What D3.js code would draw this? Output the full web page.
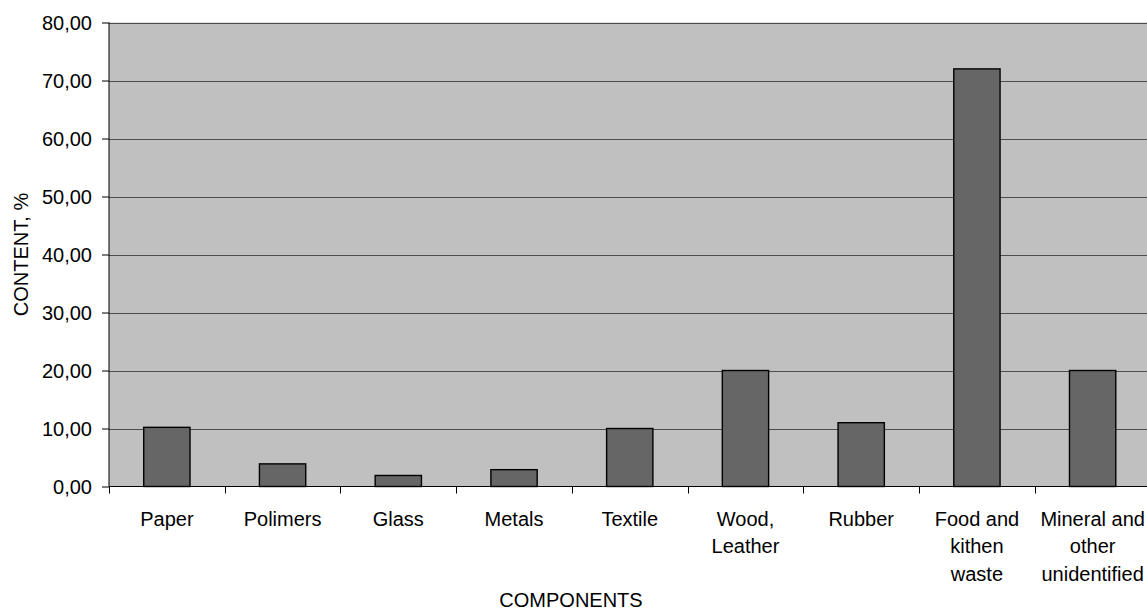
<!DOCTYPE html>
<html>
<head>
<meta charset="utf-8">
<script src="https://cdn.jsdelivr.net/npm/d3@7"></script>
<style>
  html, body { margin: 0; padding: 0; background: #ffffff; }
  svg { display: block; }
  text { font-family: "Liberation Sans", Arial, sans-serif; fill: #000; }
</style>
</head>
<body>
<svg id="chart" width="1147" height="610"></svg>
<script>
// Waste composition by component, % of total
const categories = [
  "Paper", "Polimers", "Glass", "Metals", "Textile",
  "Wood, Leather", "Rubber", "Food and kithen waste", "Mineral and other unidentified"
];
const contentValues = [10.2, 3.9, 1.9, 2.9, 10.0, 20.0, 11.0, 72.0, 20.0];
const categoryLabelLines = [
  ["Paper"], ["Polimers"], ["Glass"], ["Metals"], ["Textile"],
  ["Wood,", "Leather"], ["Rubber"], ["Food and", "kithen", "waste"],
  ["Mineral and", "other", "unidentified"]
];
const yTickValues = [0, 10, 20, 30, 40, 50, 60, 70, 80];
const xAxisTitle = "COMPONENTS";
const yAxisTitle = "CONTENT, %";

const svg = d3.select("#chart");
const plot = { left: 109, right: 1150.5, top: 22.5, bottom: 486.5 };
const fontSize = 20;

const x = d3.scaleBand()
  .domain(categories)
  .range([plot.left, plot.right])
  .paddingInner(0.6)
  .paddingOuter(0.3);

const y = d3.scaleLinear()
  .domain([0, 80])
  .range([plot.bottom, plot.top]);

const fmt = v => d3.format(".2f")(v).replace(".", ",");

// plot background
svg.append("rect")
  .attr("x", plot.left)
  .attr("y", plot.top)
  .attr("width", plot.right - plot.left)
  .attr("height", plot.bottom - plot.top)
  .attr("fill", "#c0c0c0");

// horizontal gridlines
svg.append("g")
  .selectAll("line")
  .data(yTickValues.filter(v => v > 0))
  .join("line")
  .attr("x1", plot.left)
  .attr("x2", plot.right)
  .attr("y1", d => Math.round(y(d)) + 0.5)
  .attr("y2", d => Math.round(y(d)) + 0.5)
  .attr("stroke", "#4d4d4d")
  .attr("stroke-width", 1);

// bars
svg.append("g")
  .selectAll("rect")
  .data(contentValues)
  .join("rect")
  .attr("x", (d, i) => x(categories[i]))
  .attr("y", d => y(d))
  .attr("width", x.bandwidth())
  .attr("height", d => y(0) - y(d))
  .attr("fill", "#666666")
  .attr("stroke", "#000")
  .attr("stroke-width", 1.4);

// y axis
const yAxis = d3.axisLeft(y)
  .tickValues(yTickValues)
  .tickFormat(fmt)
  .tickSize(7)
  .tickPadding(10);

const yg = svg.append("g")
  .attr("transform", `translate(${plot.left},0)`)
  .call(yAxis);
yg.select(".domain").attr("stroke", "#000").attr("d", `M-0,${plot.top}V${plot.bottom}`);
yg.selectAll(".tick line").attr("stroke", "#000");
yg.selectAll(".tick text")
  .attr("font-size", fontSize)
  .attr("font-family", "Liberation Sans, Arial, sans-serif")
  .attr("dy", "0.36em");

// x axis line with ticks at category boundaries
const step = x.step();
const boundaries = categories.map(c => x(c) + x.bandwidth() / 2 - step / 2)
  .concat([x(categories[categories.length - 1]) + x.bandwidth() / 2 + step / 2]);

const xg = svg.append("g");
xg.append("line")
  .attr("x1", plot.left)
  .attr("x2", plot.right)
  .attr("y1", plot.bottom)
  .attr("y2", plot.bottom)
  .attr("stroke", "#000");
xg.selectAll("line.tick")
  .data(boundaries)
  .join("line")
  .attr("class", "tick")
  .attr("x1", d => Math.round(d) + 0.5)
  .attr("x2", d => Math.round(d) + 0.5)
  .attr("y1", plot.bottom)
  .attr("y2", plot.bottom + 7)
  .attr("stroke", "#000");

// category labels (wrapped)
const labels = xg.selectAll("text.cat")
  .data(categories)
  .join("text")
  .attr("class", "cat")
  .attr("text-anchor", "middle")
  .attr("font-size", fontSize)
  .attr("transform", d => `translate(${x(d) + x.bandwidth() / 2},526)`);
labels.each(function(d, i) {
  d3.select(this).selectAll("tspan")
    .data(categoryLabelLines[i])
    .join("tspan")
    .attr("x", 0)
    .attr("y", (t, j) => j * 27.3)
    .text(t => t);
});

// axis titles
svg.append("text")
  .attr("x", 571)
  .attr("y", 607)
  .attr("text-anchor", "middle")
  .attr("font-size", fontSize)
  .text(xAxisTitle);

svg.append("text")
  .attr("transform", `translate(28,${(plot.top + plot.bottom) / 2}) rotate(-90)`)
  .attr("text-anchor", "middle")
  .attr("font-size", fontSize)
  .text(yAxisTitle);
</script>
</body>
</html>
